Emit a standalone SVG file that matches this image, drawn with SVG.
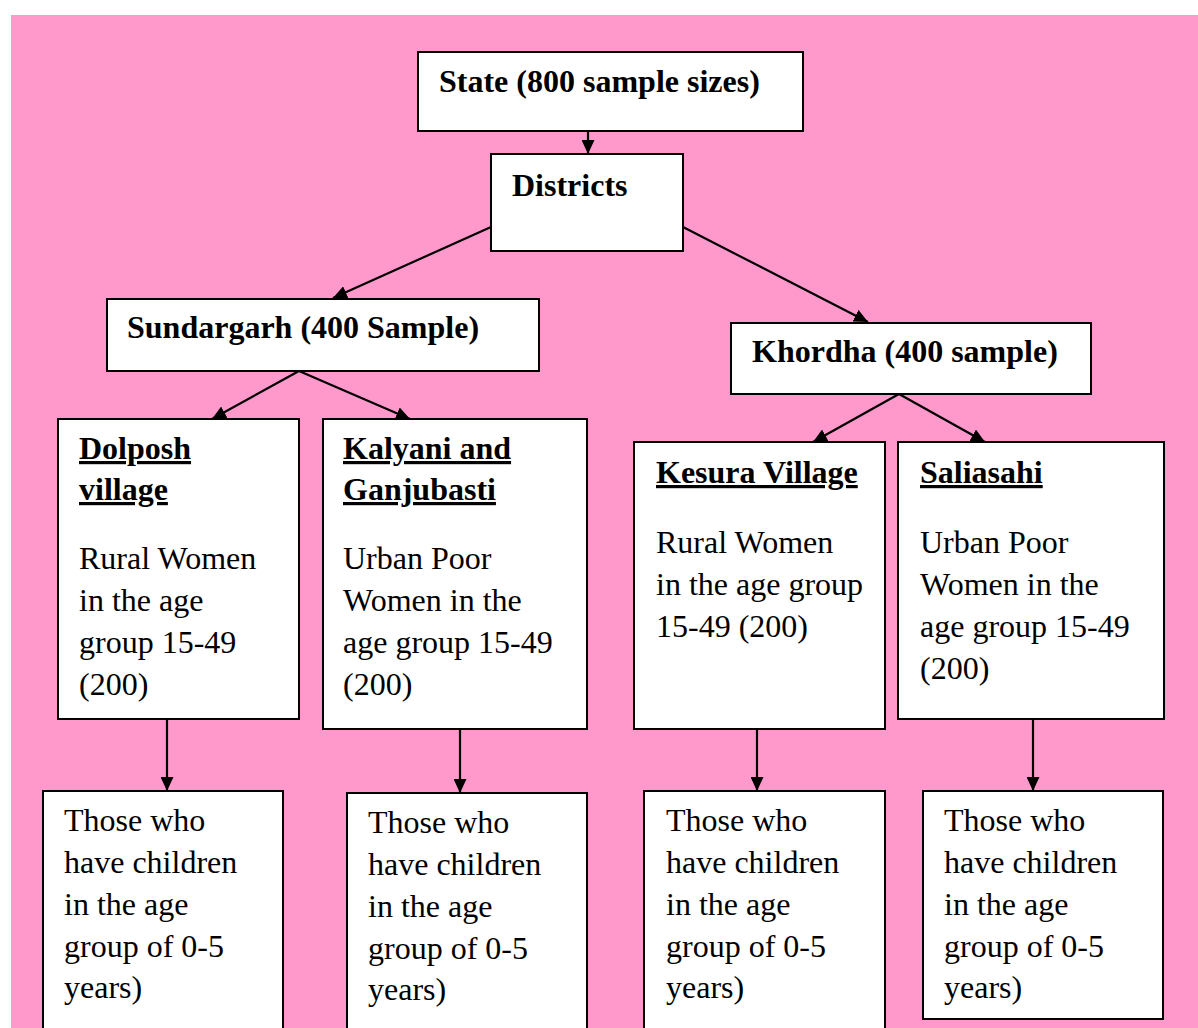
<svg xmlns="http://www.w3.org/2000/svg" width="1198" height="1028" viewBox="0 0 1198 1028">
  <defs>
    <marker id="ah" viewBox="0 0 14 13" refX="14" refY="6.5" markerWidth="14" markerHeight="13" markerUnits="userSpaceOnUse" orient="auto">
      <path d="M0,0 L14,6.5 L0,13 z" fill="#000"/>
    </marker>
    <style>
      .box { fill: #ffffff; stroke: #000000; stroke-width: 2; }
      .conn line { stroke: #000000; stroke-width: 2.2; marker-end: url(#ah); }
      text { font-family: "Liberation Serif", "Times New Roman", serif; font-size: 32px; fill: #000000; }
      .b { font-weight: bold; }
      .u { font-weight: bold; text-decoration: underline; }
    </style>
  </defs>
  <rect x="0" y="0" width="1198" height="1028" fill="#ffffff"/>
  <rect x="11" y="15" width="1187" height="1013" fill="#ff99cc"/>

  <g id="connectors" class="conn">
    <line x1="588" y1="131" x2="588" y2="154"/>
    <line x1="491" y1="227" x2="333" y2="298"/>
    <line x1="683" y1="227" x2="868" y2="322"/>
    <line x1="299" y1="371" x2="212" y2="419"/>
    <line x1="299" y1="371" x2="410" y2="419"/>
    <line x1="899" y1="394" x2="813" y2="442"/>
    <line x1="899" y1="394" x2="985" y2="442"/>
    <line x1="167" y1="719" x2="167" y2="791"/>
    <line x1="460" y1="729" x2="460" y2="793"/>
    <line x1="757" y1="729" x2="757" y2="791"/>
    <line x1="1033" y1="719" x2="1033" y2="791"/>
  </g>

  <g id="state">
    <rect class="box" x="418" y="52" width="385" height="79"/>
    <text class="b" x="439" y="92">State (800 sample sizes)</text>
  </g>
  <g id="districts">
    <rect class="box" x="491" y="154" width="192" height="97"/>
    <text class="b" x="512" y="196">Districts</text>
  </g>
  <g id="sundargarh">
    <rect class="box" x="107" y="299" width="432" height="72"/>
    <text class="b" x="127" y="338">Sundargarh (400 Sample)</text>
  </g>
  <g id="khordha">
    <rect class="box" x="731" y="323" width="360" height="71"/>
    <text class="b" x="752" y="362">Khordha (400 sample)</text>
  </g>

  <g id="dolposh">
    <rect class="box" x="58" y="419" width="241" height="300"/>
    <text class="u" x="79" y="459">Dolposh</text>
    <text class="u" x="79" y="500">village</text>
    <text x="79" y="569">Rural Women</text>
    <text x="79" y="611">in the age</text>
    <text x="79" y="653">group 15-49</text>
    <text x="79" y="695">(200)</text>
  </g>
  <g id="kalyani">
    <rect class="box" x="323" y="419" width="264" height="310"/>
    <text class="u" x="343" y="459">Kalyani and</text>
    <text class="u" x="343" y="500">Ganjubasti</text>
    <text x="343" y="569">Urban Poor</text>
    <text x="343" y="611">Women in the</text>
    <text x="343" y="653">age group 15-49</text>
    <text x="343" y="695">(200)</text>
  </g>
  <g id="kesura">
    <rect class="box" x="634" y="442" width="251" height="287"/>
    <text class="u" x="656" y="483">Kesura Village</text>
    <text x="656" y="553">Rural Women</text>
    <text x="656" y="595">in the age group</text>
    <text x="656" y="637">15-49 (200)</text>
  </g>
  <g id="saliasahi">
    <rect class="box" x="898" y="442" width="266" height="277"/>
    <text class="u" x="920" y="483">Saliasahi</text>
    <text x="920" y="553">Urban Poor</text>
    <text x="920" y="595">Women in the</text>
    <text x="920" y="637">age group 15-49</text>
    <text x="920" y="679">(200)</text>
  </g>

  <g id="children1">
    <rect class="box" x="43" y="791" width="240" height="260"/>
    <text x="64" y="831">Those who</text>
    <text x="64" y="873">have children</text>
    <text x="64" y="915">in the age</text>
    <text x="64" y="957">group of 0-5</text>
    <text x="64" y="998">years)</text>
  </g>
  <g id="children2">
    <rect class="box" x="347" y="793" width="240" height="260"/>
    <text x="368" y="833">Those who</text>
    <text x="368" y="875">have children</text>
    <text x="368" y="917">in the age</text>
    <text x="368" y="959">group of 0-5</text>
    <text x="368" y="1000">years)</text>
  </g>
  <g id="children3">
    <rect class="box" x="644" y="791" width="241" height="260"/>
    <text x="666" y="831">Those who</text>
    <text x="666" y="873">have children</text>
    <text x="666" y="915">in the age</text>
    <text x="666" y="957">group of 0-5</text>
    <text x="666" y="998">years)</text>
  </g>
  <g id="children4">
    <rect class="box" x="923" y="791" width="240" height="228"/>
    <text x="944" y="831">Those who</text>
    <text x="944" y="873">have children</text>
    <text x="944" y="915">in the age</text>
    <text x="944" y="957">group of 0-5</text>
    <text x="944" y="998">years)</text>
  </g>
</svg>
